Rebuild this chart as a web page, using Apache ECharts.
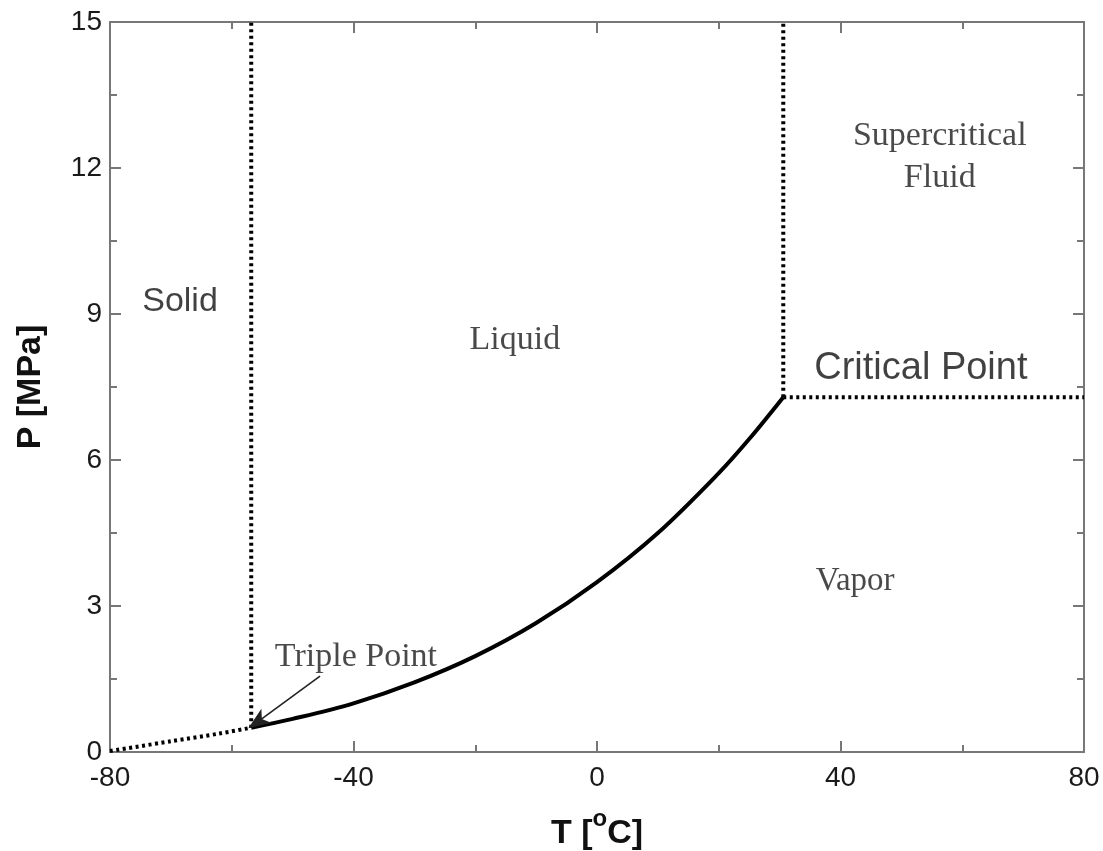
<!DOCTYPE html>
<html>
<head>
<meta charset="utf-8">
<script src="https://cdn.jsdelivr.net/npm/echarts@6/dist/echarts.min.js"></script>
<style>html,body{margin:0;padding:0;background:#fff}#c{width:1103px;height:851px}</style>
</head>
<body>
<div id="c"></div>
<script>
// ---- data ----
const xTicks = [-80, -40, 0, 40, 80];
const yTicks = [0, 3, 6, 9, 12, 15];
// liquid–vapour (boiling) curve, triple point -> critical point
const vaporT = [-56.8, -50, -40, -30, -20, -10, 0, 10, 20, 25, 30.6];
const vaporP = [0.50, 0.68, 1.00, 1.43, 1.97, 2.65, 3.49, 4.50, 5.73, 6.43, 7.29];
// solid–vapour (sublimation) curve
const sublT = [-80, -70, -62, -56.8];
const sublP = [0.02, 0.22, 0.38, 0.50];
// solid–liquid (melting) line
const meltT = [-56.8, -56.8];
const meltP = [0.50, 15];
// critical isotherm and isobar
const critIsoT = [30.6, 30.6];
const critIsoP = [7.29, 15];
const critBarT = [30.6, 80];
const critBarP = [7.29, 7.29];
// text annotations (anchor in data coordinates)
const labelText = ['Solid', 'Liquid', 'Supercritical\nFluid', 'Critical Point', 'Vapor', 'Triple Point'];
const labelT = [-68.5, -13.5, 56.3, 53.2, 42.4, -39.6];
const labelP = [9.25, 8.47, 12.22, 7.89, 3.51, 1.95];
// arrow from "Triple Point" text to the triple point
const arrowT = [-45.5, -56.2];
const arrowP = [1.56, 0.58];

const zip = (a, b) => a.map((v, i) => [v, b[i]]);
const SANS = 'Liberation Sans, Arial, sans-serif';
const SERIF = 'Liberation Serif, Times New Roman, serif';
const labelFonts = [SANS, SERIF, SERIF, SANS, SERIF, SERIF];
const labelSizes = [34, 34, 34, 38, 33, 34];
const labelColors = ['#111', '#1c1c1c', '#1c1c1c', '#111', '#1c1c1c', '#1c1c1c'];

const axisCommon = {
  type: 'value',
  axisLine: { show: true, onZero: false, lineStyle: { color: '#777', width: 2 } },
  axisTick: { show: true, inside: true, length: 11, lineStyle: { color: '#777', width: 2 } },
  minorTick: { show: true, splitNumber: 2, length: 7, lineStyle: { color: '#777', width: 2 } },
  splitLine: { show: false },
  minorSplitLine: { show: false }
};
const dotted = { color: '#000', width: 4, type: [3, 3.5], cap: 'butt' };

const chart = echarts.init(document.getElementById('c'), null, { renderer: 'canvas' });
chart.setOption({
  animation: false,
  backgroundColor: '#fff',
  grid: { left: 110, right: 19, top: 22, bottom: 99, containLabel: false, outerBoundsMode: 'none' },
  xAxis: [
    Object.assign({}, axisCommon, {
      position: 'bottom', min: xTicks[0], max: xTicks[xTicks.length - 1], interval: 40,
      axisLabel: { fontSize: 28, fontFamily: SANS, color: '#1a1a1a', margin: 12 },
      name: 'T [{sup|o}C]', nameLocation: 'middle', nameGap: 55,
      nameTextStyle: {
        fontSize: 34, fontWeight: 'bold', fontFamily: SANS, color: '#111',
        rich: { sup: { fontSize: 24, fontWeight: 'bold', fontFamily: SANS, color: '#111', padding: [0, 0, 30, 0] } }
      }
    }),
    Object.assign({}, axisCommon, {
      position: 'top', min: xTicks[0], max: xTicks[xTicks.length - 1], interval: 40,
      axisLabel: { show: false }
    })
  ],
  yAxis: [
    Object.assign({}, axisCommon, {
      position: 'left', min: yTicks[0], max: yTicks[yTicks.length - 1], interval: 3,
      axisLabel: { fontSize: 28, fontFamily: SANS, color: '#1a1a1a', margin: 8 },
      name: 'P [MPa]', nameLocation: 'middle', nameGap: 62,
      nameTextStyle: { fontSize: 34, fontWeight: 'bold', fontFamily: SANS, color: '#111' }
    }),
    Object.assign({}, axisCommon, {
      position: 'right', min: yTicks[0], max: yTicks[yTicks.length - 1], interval: 3,
      axisLabel: { show: false }
    })
  ],
  series: [
    { type: 'line', name: 'vapor', data: zip(vaporT, vaporP), smooth: 0.35,
      showSymbol: false, symbol: 'none', lineStyle: { color: '#000', width: 4 },
      markLine: {
        silent: true, symbol: ['none', 'arrow'], symbolSize: [13, 22],
        label: { show: false },
        lineStyle: { color: '#222', width: 1.6, type: 'solid' },
        data: [[{ coord: [arrowT[0], arrowP[0]] },
                { coord: [arrowT[1], arrowP[1]], symbolRotate: 125, symbolOffset: [0, -8] }]]
      }
    },
    { type: 'line', name: 'sublimation', data: zip(sublT, sublP), smooth: 0.3,
      symbol: 'none', lineStyle: dotted },
    { type: 'line', name: 'melting', data: zip(meltT, meltP), symbol: 'none', lineStyle: dotted },
    { type: 'line', name: 'critIsotherm', data: zip(critIsoT, critIsoP), symbol: 'none', lineStyle: dotted },
    { type: 'line', name: 'critIsobar', data: zip(critBarT, critBarP), symbol: 'none', lineStyle: dotted },
    { type: 'scatter', name: 'labels', symbolSize: 0, silent: true,
      data: labelText.map((t, i) => ({
        name: t, value: [labelT[i], labelP[i]],
        label: { fontFamily: labelFonts[i], fontSize: labelSizes[i], color: labelColors[i] }
      })),
      label: { show: true, position: 'inside', formatter: '{b}', align: 'center',
        verticalAlign: 'middle', lineHeight: 42 }
    }
  ]
});
</script>
</body>
</html>
